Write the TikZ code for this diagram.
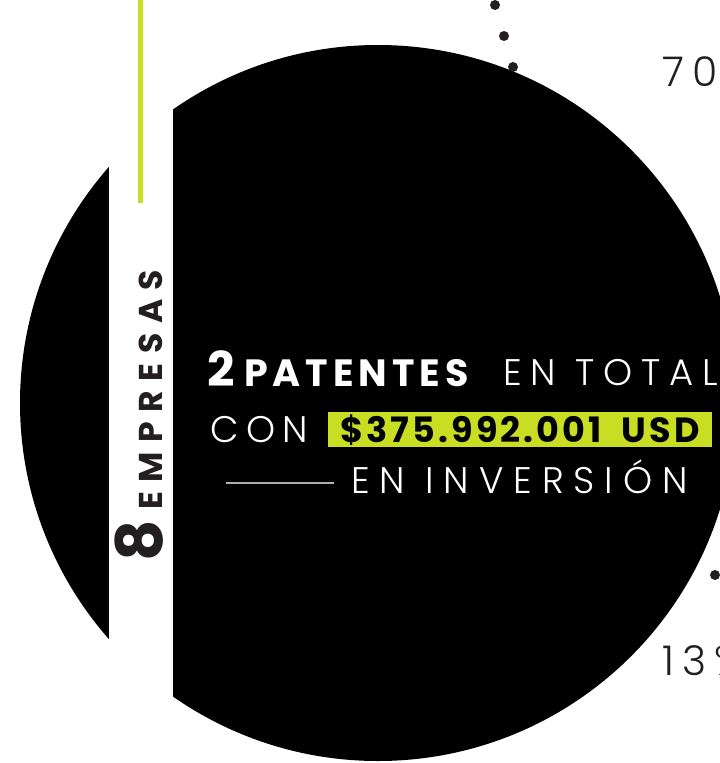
\documentclass[tikz,border=0pt]{standalone}
\usepackage{fontspec}
\usepackage{tikz}
\usetikzlibrary{positioning}
\newfontfamily\lightfont{Poppins Light}[LetterSpace=20]
\newfontfamily\heavyfont{Poppins Bold}[LetterSpace=11]
\newfontfamily\plainheavy{Poppins Bold}
\definecolor{markgreen}{RGB}{201,221,35}
\definecolor{inkdark}{RGB}{35,31,32}
\definecolor{rulegray}{RGB}{175,175,175}
\tikzset{
	dot/.style={fill=inkdark},
	thinword/.style={text=white, inner sep=0pt, anchor=base west,
		font=\lightfont\fontsize{37}{37}\selectfont},
	boldword/.style={text=white, inner sep=0pt, anchor=base west,
		font=\heavyfont\fontsize{38}{38}\selectfont},
	percent/.style={text=inkdark, inner sep=0pt, anchor=base west,
		font=\lightfont\fontsize{41}{41}\selectfont},
	highlight/.style={fill=markgreen, text=black, inner sep=0pt,
		minimum width=384pt, minimum height=35pt, text height=25pt, text depth=0pt,
		font=\heavyfont\fontsize{35}{35}\selectfont\addfontfeature{LetterSpace=9}},
	sidelabel/.style={text=inkdark, inner sep=0pt, rotate=90, anchor=base west},
}
\begin{document}
\begin{tikzpicture}[x=1pt, y=-1pt]
	\useasboundingbox (0,0) rectangle (720,763);
	\clip (0,0) rectangle (720,763);
	\fill[black] (378,403) circle (358);
	\fill[white] (109,0) rectangle (173,763);
	\draw[markgreen, line width=5pt] (140.5,0) -- (140.5,203);
	% dotted trail
	\foreach \x/\y in {495/5, 504/36, 513/67, 715/575}
		\fill[dot] (\x,\y) circle (5);
	\node[percent] (top) at (662,86) {70};
	\node[percent] (low) at (662,675) {13\%};
	% side label
	\node[sidelabel, font=\plainheavy\fontsize{64}{64}\selectfont] (eight) at (162,562) {8};
	\node[sidelabel, font=\plainheavy\fontsize{33}{33}\selectfont\addfontfeature{LetterSpace=29}] (firms) at (162,510) {EMPRESAS};
	% main lines
	\node[boldword, font=\plainheavy\fontsize{48}{48}\selectfont] (two) at (207,386) {2};
	\node[boldword, font=\heavyfont\fontsize{38}{38}\selectfont\addfontfeature{LetterSpace=13}] (patents) at (244,386) {PATENTES};
	\node[thinword, font=\lightfont\fontsize{37}{37}\selectfont\addfontfeature{LetterSpace=24}] (total) at (503,385) {EN TOTAL};
	\node[thinword] (con) at (210,442) {CON};
	\node[highlight] (amount) at (520,429.5) {\$375.992.001\hspace{20pt}USD};
	\node[thinword, font=\lightfont\fontsize{37}{37}\selectfont\addfontfeature{LetterSpace=27}] (invest) at (351,493) {EN INVERSIÓN};
	\draw[rulegray, line width=2pt] (226,483) -- (334,483);
\end{tikzpicture}
\end{document}
